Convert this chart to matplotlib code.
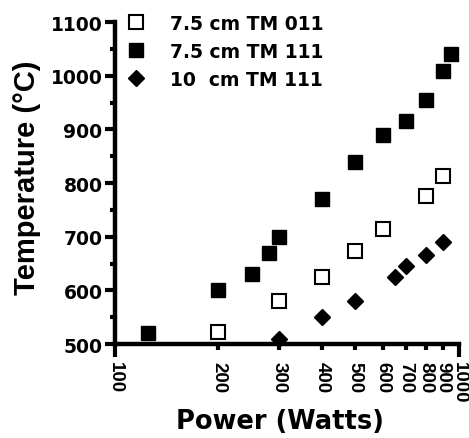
import matplotlib
matplotlib.use("Agg")
import matplotlib.pyplot as plt
from matplotlib.ticker import FixedLocator, FixedFormatter, MultipleLocator

plt.rcParams['font.family'] = ['Liberation Sans', 'DejaVu Sans']
plt.rcParams['font.weight'] = 'bold'

# 7.5 cm TM 011 (open squares)
p_011 = [200, 300, 400, 500, 600, 800, 900]
t_011 = [522, 580, 624, 674, 714, 776, 813]

# 7.5 cm TM 111 (filled squares)
p_111 = [125, 200, 250, 280, 300, 400, 500, 600, 700, 800, 900, 950]
t_111 = [520, 600, 630, 670, 700, 770, 840, 890, 915, 954, 1008, 1040]

# 10 cm TM 111 (diamonds)
p_10 = [300, 400, 500, 650, 700, 800, 900]
t_10 = [510, 550, 580, 625, 645, 665, 690]

end_ticks = [100, 1000]
mid_ticks = [200, 300, 400, 500, 600, 700, 800, 900]

fig = plt.figure(figsize=(4.69, 4.39), dpi=100)
ax = fig.add_axes([0.245, 0.2141, 0.7335, 0.7335])

ax.plot(p_011, t_011, 's', ms=9.5, mfc='white', mec='black', mew=1.5,
        clip_on=False, label='7.5 cm TM 011')
ax.plot(p_111, t_111, 's', ms=10.5, color='black', clip_on=False,
        label='7.5 cm TM 111')
ax.plot(p_10, t_10, 'D', ms=8.5, color='black', clip_on=False,
        label='10  cm TM 111')

ax.set_xscale('log')
ax.set_xlim(100, 1000)
ax.set_ylim(500, 1100)
# end ticks are long, the ones in between short; all labelled
ax.xaxis.set_major_locator(FixedLocator(end_ticks))
ax.xaxis.set_major_formatter(FixedFormatter([str(v) for v in end_ticks]))
ax.xaxis.set_minor_locator(FixedLocator(mid_ticks))
ax.xaxis.set_minor_formatter(FixedFormatter([str(v) for v in mid_ticks]))
ax.yaxis.set_major_locator(MultipleLocator(100))
ax.yaxis.set_minor_locator(MultipleLocator(50))

for s in ['top', 'right']:
    ax.spines[s].set_visible(False)
for s in ['left', 'bottom']:
    ax.spines[s].set_linewidth(3.2)

ax.tick_params(axis='x', which='major', width=3, length=9, pad=3)
ax.tick_params(axis='x', which='minor', width=3, length=4, pad=8)
ax.tick_params(axis='y', which='major', width=3, length=7, pad=2)
ax.tick_params(axis='y', which='minor', width=3, length=3.5)
for lbl in ax.get_xticklabels(which='both'):
    lbl.set_rotation(-90)
    lbl.set_fontsize(13.5)
    lbl.set_fontweight('bold')
    lbl.set_va('top')
    lbl.set_ha('center')
for lbl in ax.get_yticklabels():
    lbl.set_family(['DejaVu Sans'])
    lbl.set_fontsize(13.5)
    lbl.set_fontweight('bold')

ax.set_xlabel('Power (Watts)', fontsize=18.5, fontweight='bold',
              family=['DejaVu Sans'])
ax.xaxis.set_label_coords(0.48, -0.20)
ax.set_ylabel('Temperature (°C)', fontsize=21, fontweight='bold')
ax.yaxis.set_label_coords(-0.215, 0.52)

leg = ax.legend(loc='upper left', bbox_to_anchor=(0.0, 1.06), frameon=False,
                prop={'weight': 'bold', 'size': 13.5, 'family': 'DejaVu Sans'},
                handletextpad=1.35, labelspacing=0.47, borderaxespad=0.2,
                handlelength=1.0)

fig.savefig('out.png', dpi=100)
